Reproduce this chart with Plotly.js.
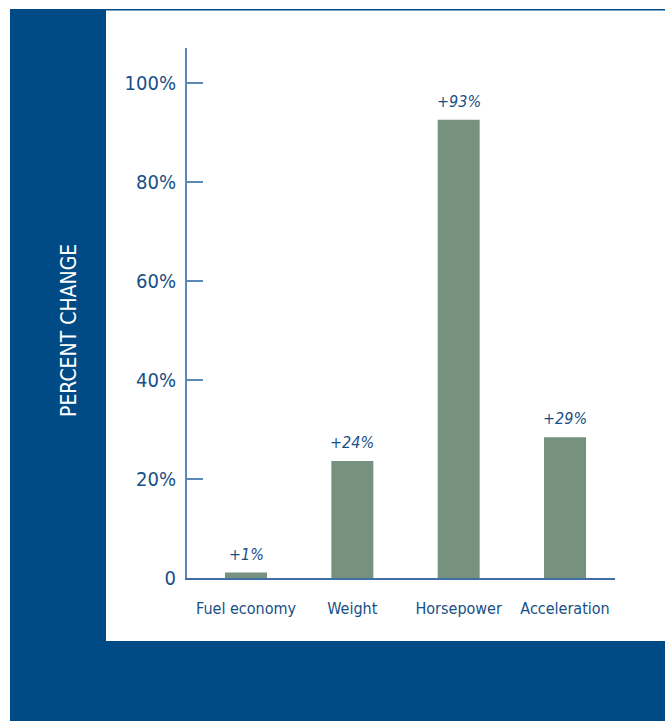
<!DOCTYPE html>
<html>
<head>
<meta charset="utf-8">
<script src="https://cdn.plot.ly/plotly-3.0.1.min.js"></script>
<style>html,body{margin:0;padding:0;background:#fff;}#chart{width:665px;height:721px;}</style>
</head>
<body>
<div id="chart"></div>
<script>
const categories = ["Fuel economy", "Weight", "Horsepower", "Acceleration"];
const percentChange = [1.1, 23.6, 92.5, 28.4];
const barLabels = ["+1%", "+24%", "+93%", "+29%"];
const yTickVals = [0, 20, 40, 60, 80, 100];
const yTickText = ["0", "20%", "40%", "60%", "80%", "100%"];

const NAVY = "#004b85";
const TEXT = "#174f86";
const AXIS = "#5b87b6";
const BAR = "#76927f";
const COND = "'DejaVu Sans Condensed', sans-serif";

const trace = {
  type: "bar",
  x: categories,
  y: percentChange,
  marker: {color: BAR},
  width: 0.395,
  hoverinfo: "skip"
};

const annotations = categories.map((c, i) => ({
  x: c, y: percentChange[i], xref: "x", yref: "y",
  text: barLabels[i], showarrow: false, yanchor: "bottom", yshift: 7,
  font: {family: COND, size: 16, color: TEXT, style: "italic"}
}));
annotations.push({
  xref: "paper", yref: "paper",
  x: (55 - 187) / 428, y: (578 - 331) / 530,
  text: "PERCENT CHANGE", textangle: -90, showarrow: false,
  font: {family: COND, size: 21, color: "#ffffff"}
});

const layout = {
  width: 665, height: 721,
  margin: {l: 187, r: 50, t: 48, b: 143, pad: 0},
  paper_bgcolor: "#ffffff",
  plot_bgcolor: "rgba(0,0,0,0)",
  showlegend: false,
  font: {family: COND, color: TEXT},
  xaxis: {
    range: [-0.555, 3.47], fixedrange: true,
    showline: true, linecolor: "#3f6fa3", linewidth: 2,
    ticks: "", showgrid: false, zeroline: false, tickangle: 0,
    tickfont: {family: COND, size: 16, color: TEXT},
    ticklabelstandoff: 15
  },
  yaxis: {
    range: [0, 107], fixedrange: true,
    showline: true, linecolor: AXIS, linewidth: 2,
    ticks: "inside", ticklen: 16, tickwidth: 2, tickcolor: AXIS,
    tickvals: yTickVals, ticktext: yTickText,
    showgrid: false, zeroline: false,
    tickfont: {family: COND, size: 20, color: TEXT},
    ticklabelstandoff: 5
  },
  shapes: [
    {type: "rect", xref: "paper", yref: "paper", layer: "below",
     x0: (10 - 187) / 428, x1: 1.2, y0: -0.3, y1: (578 - 9) / 530,
     fillcolor: NAVY, line: {width: 0}},
    {type: "rect", xref: "paper", yref: "paper", layer: "below",
     x0: (106 - 187) / 428, x1: 1.2, y0: (578 - 641) / 530, y1: (578 - 10.5) / 530,
     fillcolor: "#ffffff", line: {width: 0}}
  ],
  annotations: annotations,
  bargap: 0.6
};

Plotly.newPlot("chart", [trace], layout, {displayModeBar: false, staticPlot: true});
</script>
</body>
</html>
